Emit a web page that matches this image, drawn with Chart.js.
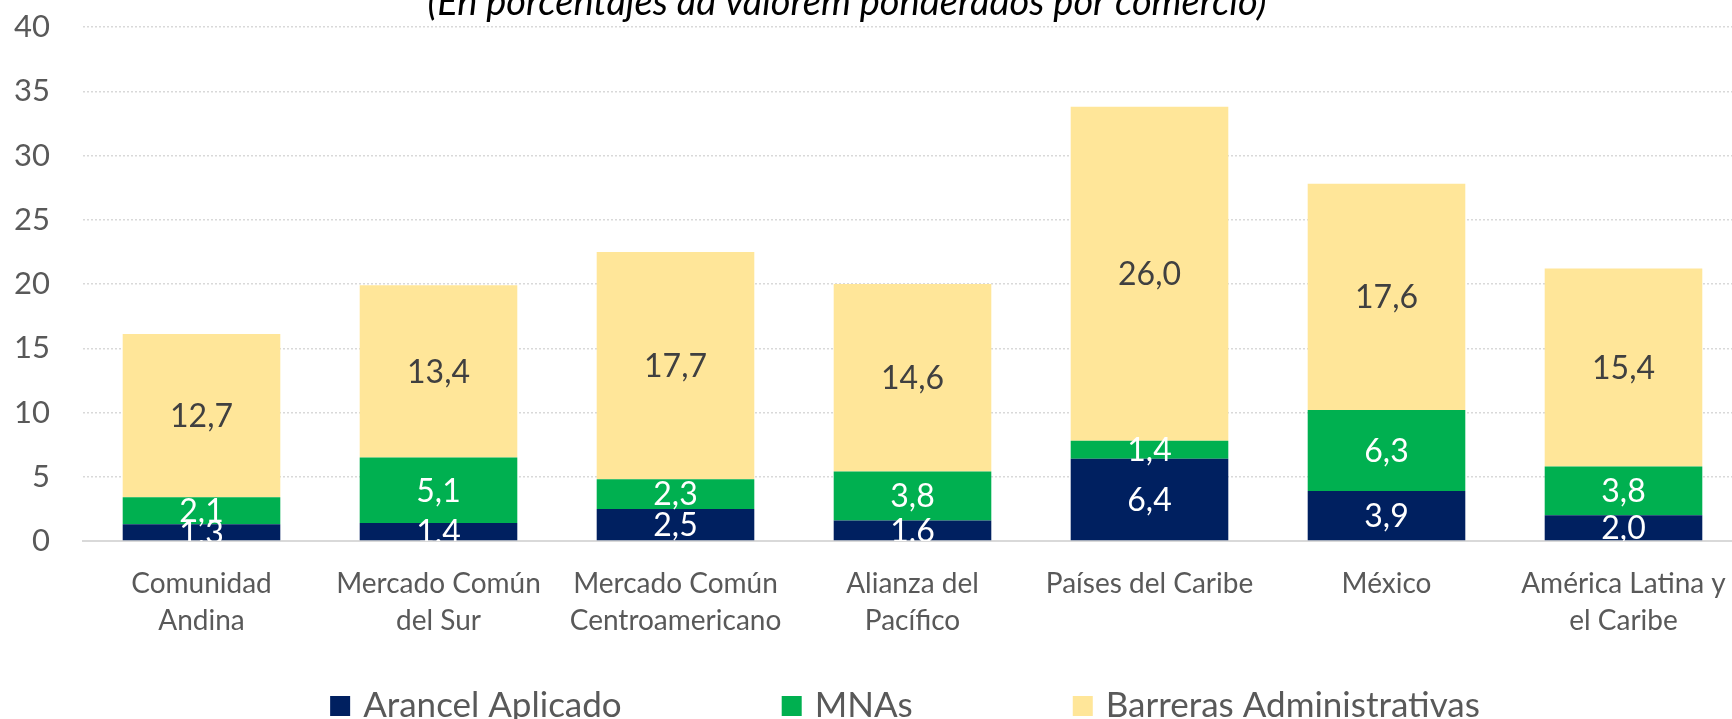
<!DOCTYPE html>
<html>
<head>
<meta charset="utf-8">
<script src="https://cdn.jsdelivr.net/npm/chart.js@4"></script>
<style>
  html, body { margin: 0; padding: 0; background: #fff; overflow: hidden; }
  #wrap { width: 1742px; height: 719px; }
</style>
</head>
<body>
<div id="wrap"><canvas id="tariff-chart" width="1742" height="719"></canvas></div>
<script>
// categories (two-line labels as in the original)
const groups = [
    ["Comunidad", "Andina"],
    ["Mercado Común", "del Sur"],
    ["Mercado Común", "Centroamericano"],
    ["Alianza del", "Pacífico"],
    ["Países del Caribe"],
    ["México"],
    ["América Latina y", "el Caribe"]
]
const arancel = [1.3, 1.4, 2.5, 1.6, 6.4, 3.9, 2.0]
const mnas = [2.1, 5.1, 2.3, 3.8, 1.4, 6.3, 3.8]
const barreras = [12.7, 13.4, 17.7, 14.6, 26.0, 17.6, 15.4]
const yTicks = [0, 5, 10, 15, 20, 25, 30, 35, 40]

const subtitle = "(En porcentajes ad valorem ponderados por comercio)"
const FONT = "Lato"

const dataObj = {
    labels: groups,
    datasets: [
        { label: "Arancel Aplicado", data: arancel, backgroundColor: "#002060", labelColor: "#ffffff" },
        { label: "MNAs", data: mnas, backgroundColor: "#00B050", labelColor: "#ffffff" },
        { label: "Barreras Administrativas", data: barreras, backgroundColor: "#FFE699", labelColor: "#404040" }
    ]
}

// value labels in the middle of each segment, clipped to the plot
const segmentLabels = {
    id: "segmentLabels",
    afterDatasetsDraw(chart) {
        const ctx = chart.ctx
        const area = chart.chartArea
        ctx.save()
        ctx.beginPath()
        ctx.rect(area.left, area.top, area.right - area.left, area.bottom - area.top)
        ctx.clip()
        ctx.font = "32px " + FONT
        ctx.textAlign = "center"
        ctx.textBaseline = "middle"
        chart.data.datasets.forEach((ds, i) => {
            chart.getDatasetMeta(i).data.forEach((bar, j) => {
                ctx.fillStyle = ds.labelColor
                ctx.fillText(ds.data[j].toFixed(1).replace(".", ","), bar.x, (bar.y + bar.base) / 2 + 1)
            })
        })
        ctx.restore()
    }
}

// subtitle (cut by the top edge) and the legend row at the bottom
const extras = {
    id: "extras",
    afterDraw(chart) {
        const ctx = chart.ctx
        ctx.save()
        ctx.font = "italic 38px " + FONT
        ctx.fillStyle = "#000000"
        ctx.textAlign = "center"
        ctx.textBaseline = "alphabetic"
        ctx.fillText(subtitle, 847, 15)

        ctx.font = "35px " + FONT
        const box = 20, gap = 13, spacing = 160
        const items = chart.data.datasets.map(ds => ({ text: ds.label, color: ds.backgroundColor, w: box + gap + ctx.measureText(ds.label).width }))
        const total = items.reduce((s, it) => s + it.w, 0) + spacing * (items.length - 1)
        let x = 905 - total / 2
        items.forEach(it => {
            ctx.fillStyle = it.color
            ctx.fillRect(x, 696, box, box)
            ctx.fillStyle = "#595959"
            ctx.textAlign = "left"
            ctx.fillText(it.text, x + box + gap, 717)
            x += it.w + spacing
        })
        ctx.restore()
    }
}

new Chart("tariff-chart", {
    type: "bar",
    data: dataObj,
    plugins: [segmentLabels, extras],
    options: {
        responsive: false,
        animation: false,
        layout: { padding: { top: 27, right: 0, left: 0, bottom: 0 } },
        plugins: {
            legend: { display: false },
            title: { display: false },
            tooltip: { enabled: false }
        },
        datasets: {
            bar: { categoryPercentage: 1, barPercentage: 0.665, borderWidth: 0 }
        },
        scales: {
            x: {
                stacked: true,
                grid: { display: false },
                border: { display: true, color: "#D9D9D9", width: 2 },
                ticks: { font: { family: FONT, size: 28, lineHeight: 1.33 }, color: "#595959", padding: 16, maxRotation: 0, autoSkip: false },
                afterFit(scale) { scale.height = 178 }
            },
            y: {
                stacked: true,
                min: 0,
                max: 40,
                afterBuildTicks(scale) { scale.ticks = yTicks.map(v => ({ value: v })) },
                grid: { color: "#D9D9D9", lineWidth: 1.5, drawTicks: false },
                border: { display: false, dash: [2, 2] },
                ticks: { font: { family: FONT, size: 31 }, color: "#595959", padding: 33 },
                afterFit(scale) {
                    scale.width = 83
                    // the tick padding would otherwise push the plot down
                    scale.paddingTop = 0
                    scale.paddingBottom = 0
                }
            }
        }
    }
});
</script>
</body>
</html>
